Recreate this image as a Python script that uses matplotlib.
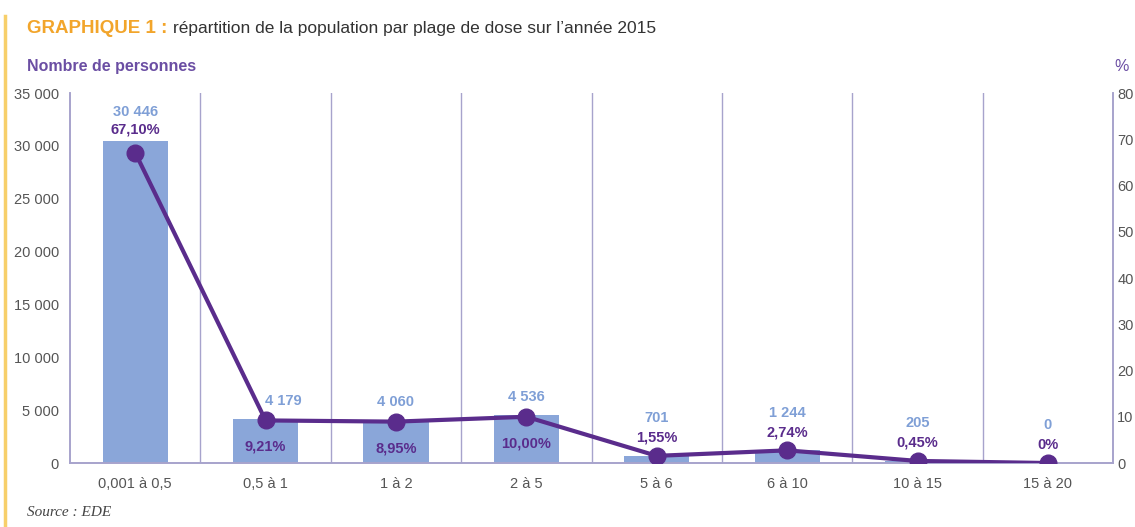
import matplotlib.pyplot as plt
from matplotlib.lines import Line2D

plt.rcParams['font.family'] = ['Liberation Sans', 'DejaVu Sans']

categories = ['0,001 à 0,5', '0,5 à 1', '1 à 2', '2 à 5', '5 à 6', '6 à 10', '10 à 15', '15 à 20']
counts = [30446, 4179, 4060, 4536, 701, 1244, 205, 0]
count_labels = ['30 446', '4 179', '4 060', '4 536', '701', '1 244', '205', '0']
percents = [67.10, 9.21, 8.95, 10.00, 1.55, 2.74, 0.45, 0.0]
percent_labels = ['67,10%', '9,21%', '8,95%', '10,00%', '1,55%', '2,74%', '0,45%', '0%']
left_ticks = [0, 5000, 10000, 15000, 20000, 25000, 30000, 35000]
left_tick_labels = ['0', '5 000', '10 000', '15 000', '20 000', '25 000', '30 000', '35 000']
right_ticks = [0, 10, 20, 30, 40, 50, 60, 70, 80]

bar_color = '#8aa6d9'
line_color = '#5a2c8c'
sep_color = '#a7a3cc'
count_color = '#7f9fd6'
tick_color = '#555555'

fig = plt.figure(figsize=(11.35, 5.27), dpi=100)
ax = fig.add_axes([0.0617, 0.1214, 0.919, 0.7021])
ax2 = ax.twinx()

x = list(range(len(categories)))
ax.bar(x, counts, width=0.5, color=bar_color, zorder=2)
ax.set_xlim(-0.5, len(categories) - 0.5)
ax.set_ylim(0, 35000)
ax.set_yticks(left_ticks)
ax.set_yticklabels(left_tick_labels)
ax.set_xticks(x)
ax.set_xticklabels(categories)

for i in range(1, len(categories)):
    ax.axvline(i - 0.5, color=sep_color, lw=1, zorder=1)

ax2.plot(x, percents, color=line_color, lw=3, marker='o', markersize=12, zorder=3)
ax2.set_ylim(0, 80)
ax2.set_yticks(right_ticks)

for a in (ax, ax2):
    a.tick_params(length=0, labelsize=10.5, colors=tick_color, pad=8)
    a.spines['top'].set_visible(False)
    for s in ['left', 'right', 'bottom']:
        a.spines[s].set_color(sep_color)
        a.spines[s].set_linewidth(1.2)
ax.tick_params(axis='x', pad=10)
ax2.tick_params(axis='y', pad=3)

lab_kw = dict(textcoords='offset points', ha='center', fontsize=10.5, fontweight='bold')

for i in range(len(categories)):
    if i == 0:
        # both labels above the tall bar
        ax.annotate(count_labels[i], (i, counts[i]), xytext=(0, 16), va='bottom',
                    color=count_color, **lab_kw)
        ax.annotate(percent_labels[i], (i, counts[i]), xytext=(0, 3), va='bottom',
                    color=line_color, **lab_kw)
    elif i in (1, 2, 3):
        dx = 13 if i == 1 else 0  # keep clear of the falling line
        ax.annotate(count_labels[i], (i, counts[i]), xytext=(dx, 8), va='bottom',
                    color=count_color, **lab_kw)
        ax2.annotate(percent_labels[i], (i, percents[i]), xytext=(0, -14), va='top',
                     color=line_color, **lab_kw)
    else:
        ax2.annotate(percent_labels[i], (i, percents[i]), xytext=(0, 8), va='bottom',
                     color=line_color, **lab_kw)
        ax2.annotate(count_labels[i], (i, percents[i]), xytext=(0, 22), va='bottom',
                     color=count_color, **lab_kw)

ax.set_zorder(ax2.get_zorder() - 1)
ax2.patch.set_visible(False)

# titles
t1 = fig.text(0.024, 0.945, 'GRAPHIQUE 1 : ', color='#f2a52b', fontsize=13.5, fontweight='bold',
              va='center', ha='left')
fig.canvas.draw()
bb = t1.get_window_extent()
x_end = fig.transFigure.inverted().transform((bb.x1, bb.y0))[0]
fig.text(x_end, 0.945, 'répartition de la population par plage de dose sur l\u2019année 2015',
         color='#333333', fontsize=12.5, va='center', ha='left')
fig.text(0.024, 0.873, 'Nombre de personnes', color='#6b4ea3', fontsize=11.5, fontweight='bold',
         va='center', ha='left')
fig.text(0.988, 0.873, '%', color='#6b4ea3', fontsize=11.5, va='center', ha='center')
fig.text(0.024, 0.015, 'Source : EDE', color='#444444', fontsize=11, style='italic',
         family='Liberation Serif', va='bottom', ha='left')

fig.add_artist(Line2D([0.004, 0.004], [0.0, 0.97], color='#f7cf6a', lw=2.5,
                      transform=fig.transFigure))

fig.savefig('out.png', dpi=100)
